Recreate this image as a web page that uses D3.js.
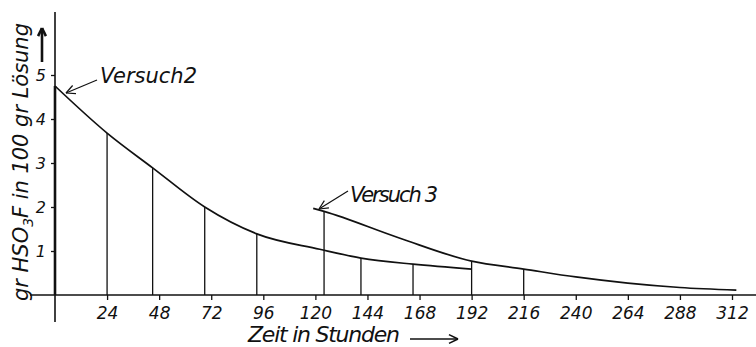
<!DOCTYPE html>
<html>
<head>
<meta charset="utf-8">
<script src="https://d3js.org/d3.v7.min.js"></script>
<style>
  body { margin: 0; background: #fff; }
  svg text { font-family: "DejaVu Sans", sans-serif; font-style: italic; fill: #111; }
</style>
</head>
<body>
<div id="chart"></div>
<script>

// Versuch 2 (hours, grams HSO3F per 100 g solution), drop = vertical line to the axis
const v2Hours  = [0, 24, 45, 69, 93, 122, 141, 165, 192];
const v2Values = [4.75, 3.68, 2.89, 2.0, 1.39, 1.04, 0.84, 0.70, 0.59];
const v2Drop   = [1, 1, 1, 1, 1, 0, 1, 1, 0];

// Versuch 3
const v3Hours  = [119, 124, 159, 192, 216, 240, 264, 288, 314];
const v3Values = [1.97, 1.90, 1.29, 0.77, 0.59, 0.41, 0.27, 0.17, 0.11];
const v3Drop   = [0, 1, 0, 1, 1, 0, 0, 0, 0];

const xTicks = [24, 48, 72, 96, 120, 144, 168, 192, 216, 240, 264, 288, 312];
const yTicks = [1, 2, 3, 4, 5];

const W = 756, H = 347;

const svg = d3.select("#chart").append("svg")
  .attr("width", W)
  .attr("height", H);

// scales
const x = d3.scaleLinear().domain([0, 312]).range([55, 732]);
const y = d3.scaleLinear().domain([0, 5]).range([295, 75]);

const ink = "#111";

// axis lines (drawn by hand so they can run past the data range)
svg.append("line")
  .attr("x1", 30).attr("x2", W).attr("y1", y(0)).attr("y2", y(0))
  .attr("stroke", ink).attr("stroke-width", 1.6);
svg.append("line")
  .attr("x1", x(0)).attr("x2", x(0)).attr("y1", 12).attr("y2", 322)
  .attr("stroke", ink).attr("stroke-width", 1.6);

// x axis
const xAxis = svg.append("g")
  .attr("transform", `translate(0, ${y(0)})`)
  .call(d3.axisBottom(x).tickValues(xTicks).tickSize(5).tickPadding(7));
xAxis.select(".domain").remove();
xAxis.selectAll(".tick line").attr("stroke", ink).attr("stroke-width", 1.3);
xAxis.selectAll("text")
  .style("font-size", "17px")
  .attr("fill", ink);

// y axis
const yAxis = svg.append("g")
  .attr("transform", `translate(${x(0)}, 0)`)
  .call(d3.axisLeft(y).tickValues(yTicks).tickFormat(d3.format("d")).tickSize(4).tickPadding(5));
yAxis.select(".domain").remove();
yAxis.selectAll(".tick line").attr("stroke", ink).attr("stroke-width", 1.3);
yAxis.selectAll("text")
  .style("font-size", "16px")
  .attr("fill", ink);

// build point lists
const v2 = v2Hours.map((h, i) => ({h: h, v: v2Values[i], drop: v2Drop[i]}));
const v3 = v3Hours.map((h, i) => ({h: h, v: v3Values[i], drop: v3Drop[i]}));

// vertical lines from the curve down to the time axis
const drops = v2.filter(d => d.drop).concat(v3.filter(d => d.drop));
svg.selectAll(".drop")
  .data(drops)
  .join("line")
    .attr("class", "drop")
    .attr("x1", d => x(d.h)).attr("x2", d => x(d.h))
    .attr("y1", d => y(d.v)).attr("y2", y(0))
    .attr("stroke", ink)
    .attr("stroke-width", d => d.h === 0 ? 2.6 : 1.3);

// curves
const line = d3.line()
  .x(d => x(d.h))
  .y(d => y(d.v))
  .curve(d3.curveMonotoneX);

[v2, v3].forEach(s => {
  svg.append("path")
    .datum(s)
    .attr("d", line)
    .attr("fill", "none")
    .attr("stroke", ink)
    .attr("stroke-width", 1.7);
});

// arrow helper: line with open arrow head at (x2, y2)
function arrow(x1, y1, x2, y2, len, w) {
  const a = Math.atan2(y2 - y1, x2 - x1);
  const g = svg.append("g").attr("stroke", ink).attr("fill", "none").attr("stroke-width", w);
  g.append("line").attr("x1", x1).attr("y1", y1).attr("x2", x2).attr("y2", y2);
  [-0.45, 0.45].forEach(t => {
    g.append("line")
      .attr("x1", x2).attr("y1", y2)
      .attr("x2", x2 - len * Math.cos(a + t))
      .attr("y2", y2 - len * Math.sin(a + t));
  });
}

// labels of the two experiments
svg.append("text")
  .attr("x", 100).attr("y", 83)
  .attr("textLength", 97)
  .style("font-size", "21px")
  .text("Versuch2");
arrow(97, 80, 66, 93, 10, 1.2);

svg.append("text")
  .attr("x", 350).attr("y", 202)
  .attr("textLength", 88)
  .style("font-size", "21px")
  .text("Versuch 3");
arrow(348, 191, 319, 209, 10, 1.2);

// axis titles
const yTitle = svg.append("text")
  .attr("transform", "translate(28, 162) rotate(-90)")
  .attr("text-anchor", "middle")
  .attr("textLength", 278)
  .style("font-size", "21px");
yTitle.append("tspan").text("gr HSO");
yTitle.append("tspan").attr("dy", 5).style("font-size", "14px").text("3");
yTitle.append("tspan").attr("dy", -5).text("F  in 100 gr Lösung");

svg.append("text")
  .attr("x", 248).attr("y", 342)
  .attr("textLength", 152)
  .style("font-size", "22px")
  .text("Zeit  in Stunden");

// direction arrows next to the titles
arrow(42, 62, 42, 28, 9, 2.6);
arrow(410, 339, 458, 339, 10, 1.6);
</script>
</body>
</html>
